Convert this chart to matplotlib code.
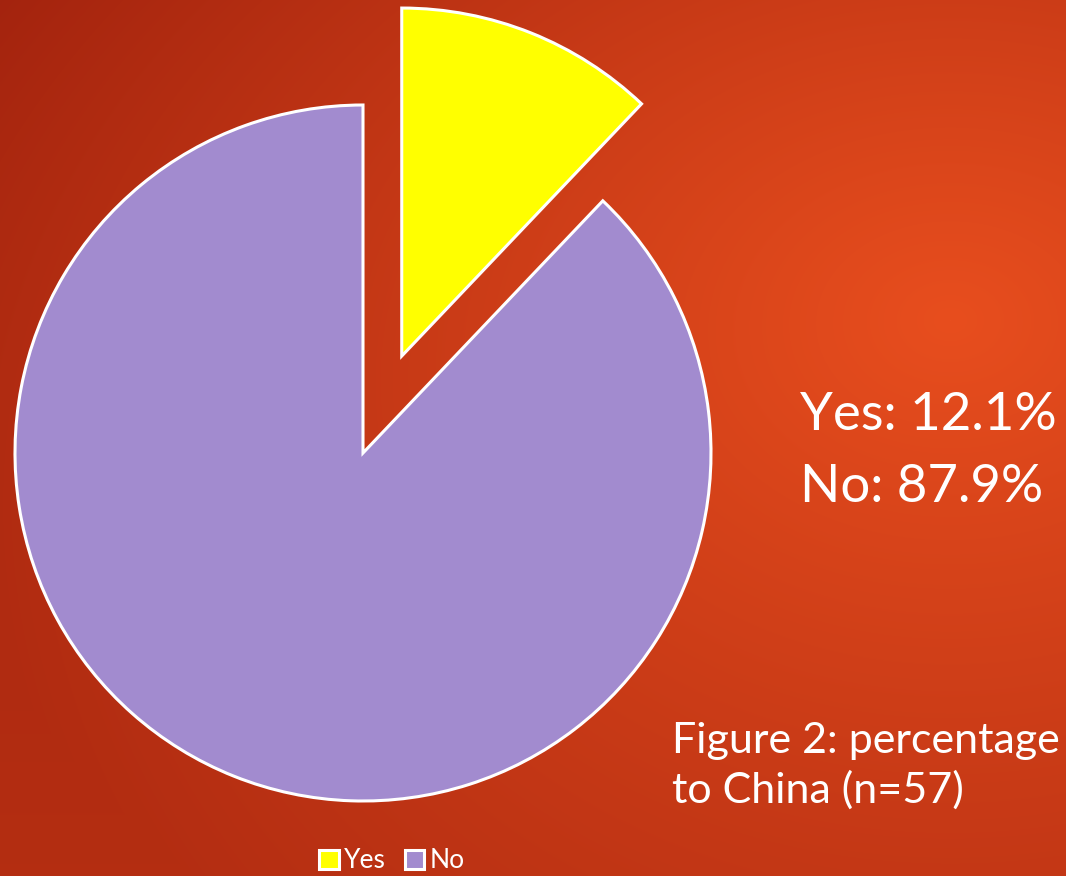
import numpy as np
import matplotlib.pyplot as plt

labels = ["Yes", "No"]
shares = [12.1, 87.9]
colors = ["#FFFF00", "#A28BCF"]
caption = ["Figure 2: percentage", "to China (n=57)"]

W, H = 1066, 876
plt.rcParams["font.family"] = ["Lato", "DejaVu Sans"]

fig = plt.figure(figsize=(W / 100, H / 100), dpi=100)
ax = fig.add_axes([0, 0, 1, 1])

# background: reddish-orange glow, darker toward the top-left
yy, xx = np.mgrid[0:H, 0:W]
d = np.clip(np.hypot((xx - 950) / 1050, (yy - 320) / 800), 0, 1) * (1 - 0.25 * yy / H)
bright = np.array([232, 78, 30]) / 255
dark = np.array([163, 35, 14]) / 255
bg = bright[None, None, :] * (1 - d[..., None]) + dark[None, None, :] * d[..., None]
ax.imshow(bg, extent=(0, W, 0, H), origin="upper", zorder=0)

radius = 348
wedges, _ = ax.pie(
    shares,
    colors=colors,
    startangle=90,
    counterclock=False,
    explode=[0.3 * radius, 0],
    center=(363, H - 453),
    radius=radius,
    wedgeprops=dict(edgecolor="white", linewidth=2.2),
)
for w in wedges:
    w.set_zorder(2)

ax.set_xlim(0, W)
ax.set_ylim(0, H)
ax.set_aspect("auto")
ax.axis("off")

ax.text(800, H - 415, f"{labels[0]}: {shares[0]}%", color="white", fontsize=38,
        va="center", ha="left", zorder=3)
ax.text(800, H - 487, f"{labels[1]}: {shares[1]}%", color="white", fontsize=38,
        va="center", ha="left", zorder=3)
ax.text(672, H - 741, caption[0], color="white", fontsize=31,
        va="center", ha="left", zorder=3)
ax.text(672, H - 790, caption[1], color="white", fontsize=31,
        va="center", ha="left", zorder=3)

fig.legend(wedges, labels, loc="center", bbox_to_anchor=(392 / W, 1 - 861 / H),
           ncol=2, frameon=False, handlelength=0.75, handleheight=0.75,
           handletextpad=0.2, columnspacing=0.7, labelcolor="white",
           prop=dict(family=["Lato", "DejaVu Sans"], size=19))

plt.savefig("out.png", dpi=100)
